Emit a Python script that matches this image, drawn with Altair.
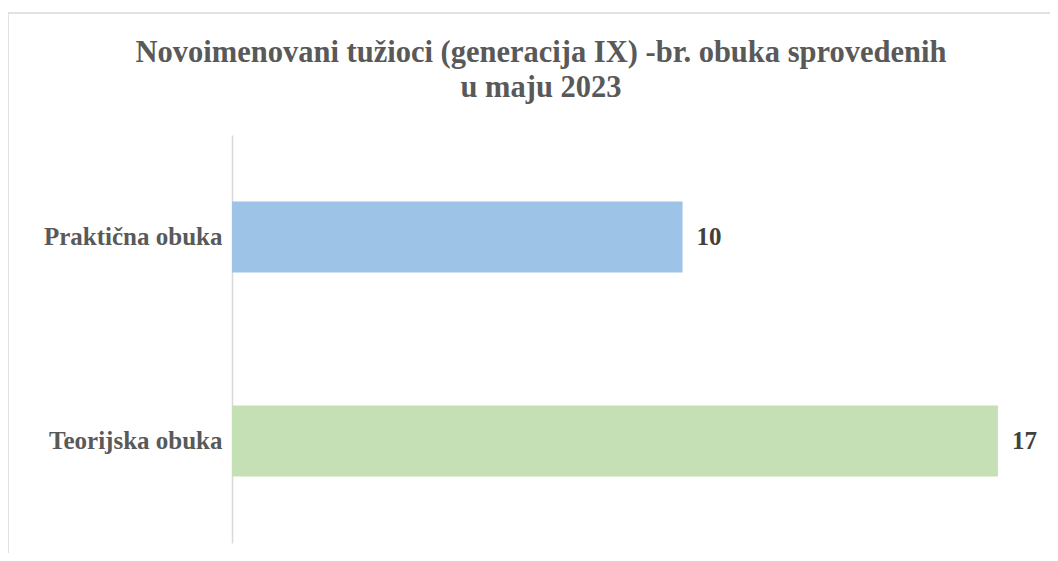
import altair as alt
import pandas as pd

categories = ["Praktična obuka", "Teorijska obuka"]
values = [10, 17]
colors = ["#9DC3E6", "#C5E0B4"]
title_lines = ["Novoimenovani tužioci (generacija IX) -br. obuka sprovedenih", "u maju 2023"]

df = pd.DataFrame({"kat": categories, "vr": values, "boja": colors})

FONT = "Liberation Serif"

y_enc = alt.Y("kat:N", sort=categories, title=None,
              scale=alt.Scale(paddingInner=0.652, paddingOuter=0.326),
              axis=alt.Axis(labelFont=FONT, labelFontSize=25, labelFontWeight="bold",
                            labelColor="#595959", ticks=False, labelPadding=10,
                            domainColor="#D9D9D9", domainWidth=1.5, grid=False))
x_enc = alt.X("vr:Q", title=None, scale=alt.Scale(domain=[0, 18], nice=False), axis=None)

bars = alt.Chart(df).mark_bar().encode(
    y=y_enc, x=x_enc, color=alt.Color("boja:N", scale=None)
)
labels = alt.Chart(df).mark_text(
    align="left", baseline="middle", dx=14, font=FONT, fontSize=25,
    fontWeight="bold", color="#404040"
).encode(y=alt.Y("kat:N", sort=categories), x="vr:Q", text="vr:Q")

border = alt.Chart(df.head(1)).mark_rect(
    fill=None, stroke="#D9D9D9", strokeWidth=1.5
).encode(x=alt.value(-224), x2=alt.value(840), y=alt.value(-122), y2=alt.value(440))

title = alt.Chart(df.head(1)).mark_text(
    align="center", baseline="alphabetic", font=FONT, fontSize=30.5,
    fontWeight="bold", color="#595959", lineHeight=35
).encode(x=alt.value(309), y=alt.value(-73), text=alt.value(title_lines))

chart = alt.layer(border, bars, labels, title).properties(
    width=811, height=408,
    autosize=alt.AutoSizeParams(type="none"),
    padding={"left": 224, "top": 127, "right": 7, "bottom": 10},
).configure_view(stroke=None)

chart.save("out.html", embed_options={"renderer": "svg", "actions": False})
